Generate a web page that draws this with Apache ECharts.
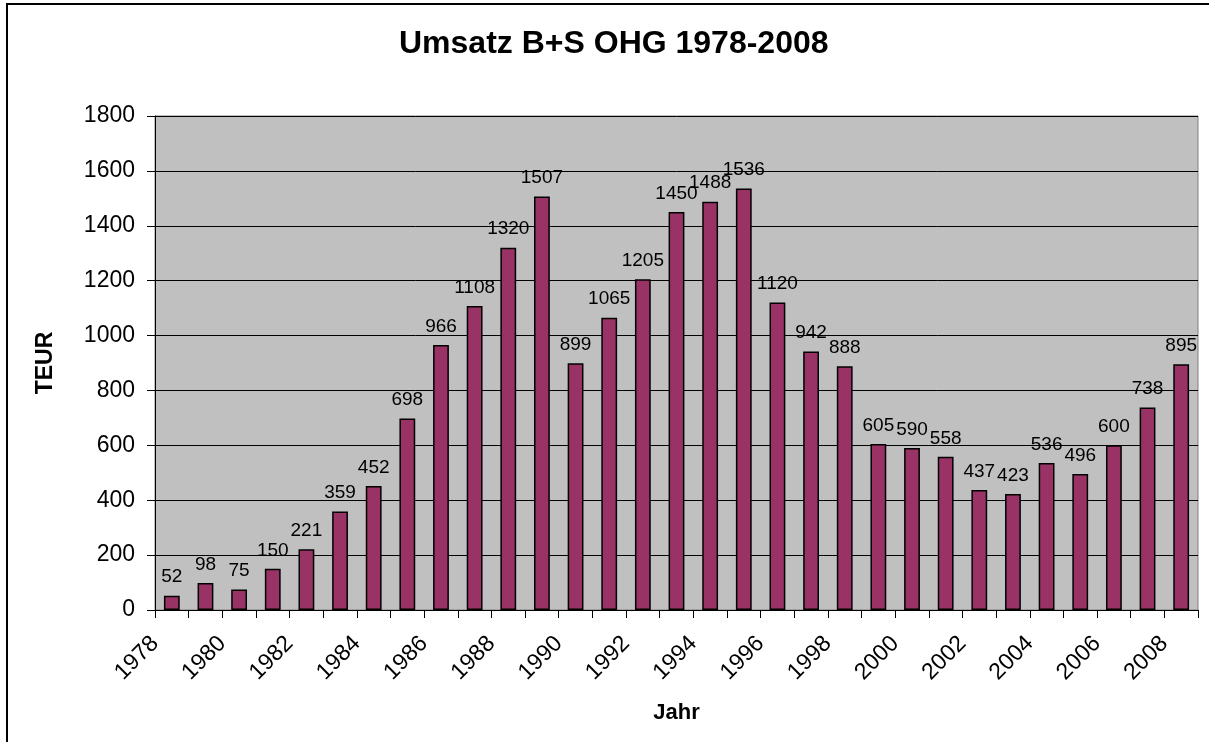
<!DOCTYPE html>
<html>
<head>
<meta charset="utf-8">
<script src="https://cdn.jsdelivr.net/npm/echarts@6/dist/echarts.min.js"></script>
<style>
  html, body { margin: 0; padding: 0; background: #fff; }
  #chart { width: 1209px; height: 742px; }
</style>
</head>
<body>
<div id="chart"></div>
<script>
// Umsatz B+S OHG, TEUR pro Jahr
const years = ['1978', '1979', '1980', '1981', '1982', '1983', '1984', '1985', '1986', '1987',
  '1988', '1989', '1990', '1991', '1992', '1993', '1994', '1995', '1996', '1997',
  '1998', '1999', '2000', '2001', '2002', '2003', '2004', '2005', '2006', '2007', '2008'];
const umsatz = [52, 98, 75, 150, 221, 359, 452, 698, 966, 1108,
  1320, 1507, 899, 1065, 1205, 1450, 1488, 1536, 1120, 942,
  888, 605, 590, 558, 437, 423, 536, 496, 600, 738, 895];
// labels sit on the category boundaries (one extra boundary at the end)
const tickYears = years.concat(['']);

const font = '"Liberation Sans", Arial, sans-serif';

let myChart = echarts.init(document.getElementById('chart'));

let option = {
  backgroundColor: '#fff',
  animation: false,
  title: {
    text: 'Umsatz B+S OHG 1978-2008',
    left: 394,
    top: 23,
    textStyle: { fontFamily: font, fontSize: 32, fontWeight: 'bold', color: '#000' }
  },
  graphic: [
    {
      type: 'rect',
      shape: { x: 7, y: 4, width: 1400, height: 900 },
      style: { fill: 'none', stroke: '#000', lineWidth: 2 },
      silent: true
    }
  ],
  grid: {
    left: 155,
    right: 11,
    top: 116,
    bottom: 132,
    show: true,
    backgroundColor: '#c0c0c0',
    borderColor: '#808080',
    borderWidth: 1
  },
  xAxis: [
    {
      type: 'category',
      data: years,
      boundaryGap: true,
      axisLine: { lineStyle: { color: '#000', width: 1 } },
      axisTick: { show: false },
      axisLabel: { show: false },
      name: 'Jahr',
      nameLocation: 'middle',
      nameGap: 92,
      nameTextStyle: { fontFamily: font, fontSize: 22, fontWeight: 'bold', color: '#000' }
    },
    {
      type: 'category',
      data: tickYears,
      boundaryGap: false,
      position: 'bottom',
      axisLine: { show: false },
      axisTick: { show: true, interval: 0, length: 8, lineStyle: { color: '#000' } },
      axisLabel: {
        interval: 1,
        rotate: 45,
        margin: 30,
        fontFamily: font,
        fontSize: 23,
        color: '#000'
      },
      splitLine: { show: false }
    }
  ],
  yAxis: {
    type: 'value',
    min: 0,
    max: 1800,
    interval: 200,
    axisLine: { show: true, lineStyle: { color: '#000', width: 1 } },
    axisTick: { show: true, length: 8, lineStyle: { color: '#000' } },
    axisLabel: {
      margin: 20,
      fontFamily: font,
      fontSize: 23,
      color: '#000',
      formatter: function (v) { return String(v); }
    },
    splitLine: { lineStyle: { color: '#000', width: 1 } },
    name: 'TEUR',
    nameLocation: 'middle',
    nameGap: 98,
    nameTextStyle: { fontFamily: font, fontSize: 23, fontWeight: 'bold', color: '#000' }
  },
  series: [
    {
      name: 'Umsatz',
      type: 'bar',
      xAxisIndex: 0,
      barWidth: '47%',
      data: umsatz,
      itemStyle: {
        color: '#993366',
        borderColor: '#000',
        borderWidth: 1.5
      },
      label: {
        show: true,
        position: 'top',
        distance: 9,
        fontFamily: font,
        fontSize: 19,
        color: '#000'
      }
    }
  ]
};

myChart.setOption(option);
</script>
</body>
</html>
